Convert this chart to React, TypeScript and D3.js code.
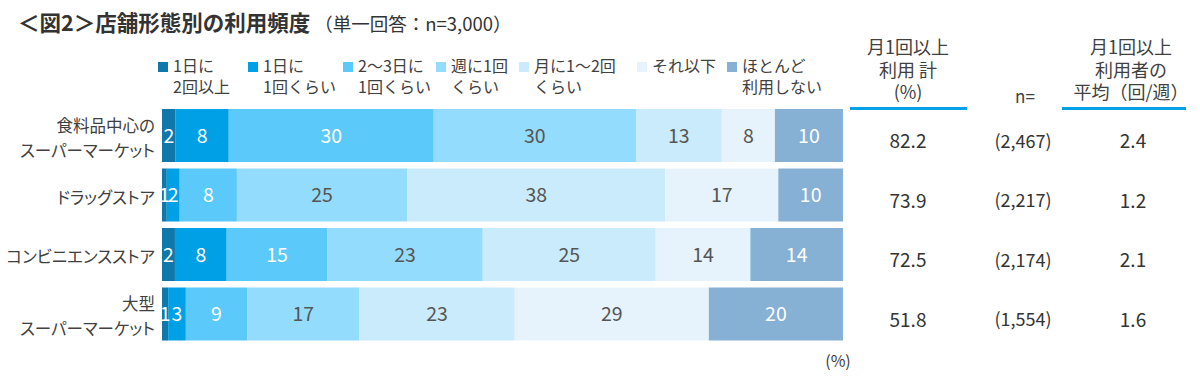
import React from 'react';
import * as d3 from 'd3';

const categories = ['食料品中心のスーパーマーケット', 'ドラッグストア', 'コンビニエンスストア', '大型スーパーマーケット'];
const categoryLines = [['食料品中心の', 'スーパーマーケット'], ['ドラッグストア'], ['コンビニエンスストア'], ['大型', 'スーパーマーケット']];

const seriesNames = ['1日に2回以上', '1日に1回くらい', '2～3日に1回くらい', '週に1回くらい', '月に1～2回くらい', 'それ以下', 'ほとんど利用しない'];
const legendLines = [['1日に', '2回以上'], ['1日に', '1回くらい'], ['2～3日に', '1回くらい'], ['週に1回', 'くらい'], ['月に1～2回', 'くらい'], ['それ以下'], ['ほとんど', '利用しない']];

const s1 = [2.0, 0.7, 1.9, 0.9];
const s2 = [7.8, 1.9, 7.6, 2.6];
const s3 = [30.1, 8.4, 14.8, 9.0];
const s4 = [29.7, 25.0, 22.8, 16.5];
const s5 = [12.6, 37.9, 25.4, 22.8];
const s6 = [7.8, 16.6, 13.9, 28.5];
const s7 = [10.0, 9.5, 13.6, 19.7];
const seriesValues = [s1, s2, s3, s4, s5, s6, s7];

const monthlyTotal = [82.2, 73.9, 72.5, 51.8];
const nValues = [2467, 2217, 2174, 1554];
const weeklyAvg = [2.4, 1.2, 2.1, 1.6];

const colors = ['#0F77AA', '#00A0E6', '#5BC9F9', '#94DCFD', '#C9EBFB', '#E7F3FC', '#87B0D5'];
const labelColors = ['#fff', '#fff', '#fff', '#555', '#555', '#555', '#fff'];
const legendX = [158, 248, 343, 436, 519, 637, 727];

const FONT = "'Noto Sans CJK JP', 'Noto Sans', sans-serif";
const TXT = '#404040';

export default function App() {
  const x = d3.scaleLinear().domain([0, 100]).range([162, 843]);
  const y = d3.scaleBand<string>().domain(categories).range([109, 340.5]).paddingInner(6.5 / 59.5).paddingOuter(0);
  const bw = y.bandwidth();
  const fmtN = d3.format(',');

  const rows = categories.map((c, i) => {
    let acc = 0;
    return seriesValues.map((s, k) => {
      const x0 = acc;
      acc += s[i];
      return { k, x0, x1: acc, v: s[i] };
    });
  });

  return (
    <svg width={1200} height={382} style={{ position: 'absolute', left: 0, top: 0, fontFamily: FONT }}>
      <rect width={1200} height={382} fill="#fff" />
      <text x={18} y={31} fill="#333">
        <tspan fontSize={21.5} fontWeight="bold">＜図2＞店舗形態別の利用頻度</tspan>
        <tspan fontSize={18.5} dx={4}>（単一回答：n=3,000）</tspan>
      </text>

      {legendLines.map((lines, k) => (
        <g key={k}>
          <rect x={legendX[k]} y={62} width={10} height={10} fill={colors[k]} />
          <text x={legendX[k] + 15} y={72} fontSize={16} fill={TXT}>
            {lines.map((l, j) => (
              <tspan key={j} x={legendX[k] + 15} dy={j === 0 ? 0 : 20.5}>{l}</tspan>
            ))}
          </text>
        </g>
      ))}

      {categories.map((c, i) => {
        const yc = (y(c) as number) + bw / 2 + 3;
        const lines = categoryLines[i];
        return (
          <g key={c}>
            {lines.map((l, j) => (
              <text key={j} x={155} y={yc + (j - (lines.length - 1) / 2) * 25} dy="0.35em" textAnchor="end" fontSize={16.5} fill={TXT} style={{ fontFeatureSettings: '"palt"' }}>{l}</text>
            ))}
            {rows[i].map((seg) => (
              <rect key={seg.k} x={x(seg.x0)} y={y(c)} width={x(seg.x1) - x(seg.x0)} height={bw} fill={colors[seg.k]} />
            ))}
            {rows[i].map((seg) => (
              <text key={'t' + seg.k} x={(x(seg.x0) + x(seg.x1)) / 2} y={(y(c) as number) + bw / 2} dy="0.36em" textAnchor="middle" fontSize={19.5} fill={labelColors[seg.k]}>{Math.round(seg.v)}</text>
            ))}
            <text x={908} y={(y(c) as number) + bw / 2 + 6} dy="0.36em" textAnchor="middle" fontSize={19} fill="#333">{monthlyTotal[i].toFixed(1)}</text>
            <text x={1023} y={(y(c) as number) + bw / 2 + 6} dy="0.36em" textAnchor="middle" fontSize={18} fill="#333">({fmtN(nValues[i])})</text>
            <text x={1133} y={(y(c) as number) + bw / 2 + 6} dy="0.36em" textAnchor="middle" fontSize={19} fill="#333">{weeklyAvg[i].toFixed(1)}</text>
          </g>
        );
      })}

      {['月1回以上', '利用 計', '(%)'].map((l, j) => (
        <text key={j} x={908} y={54 + j * 22.5} textAnchor="middle" fontSize={18} fill={TXT}>{l}</text>
      ))}
      <rect x={850} y={107} width={117} height={3} fill="#00A0E6" />
      <text x={1025} y={103} textAnchor="middle" fontSize={17} fill={TXT}>n=</text>
      {['月1回以上', '利用者の', '平均（回/週）'].map((l, j) => (
        <text key={j} x={1131} y={54 + j * 22.5} textAnchor="middle" fontSize={18} fill={TXT}>{l}</text>
      ))}
      <rect x={1062} y={107} width={124} height={3} fill="#00A0E6" />

      <text x={838} y={367} textAnchor="middle" fontSize={16} fill={TXT}>(%)</text>
    </svg>
  );
}
